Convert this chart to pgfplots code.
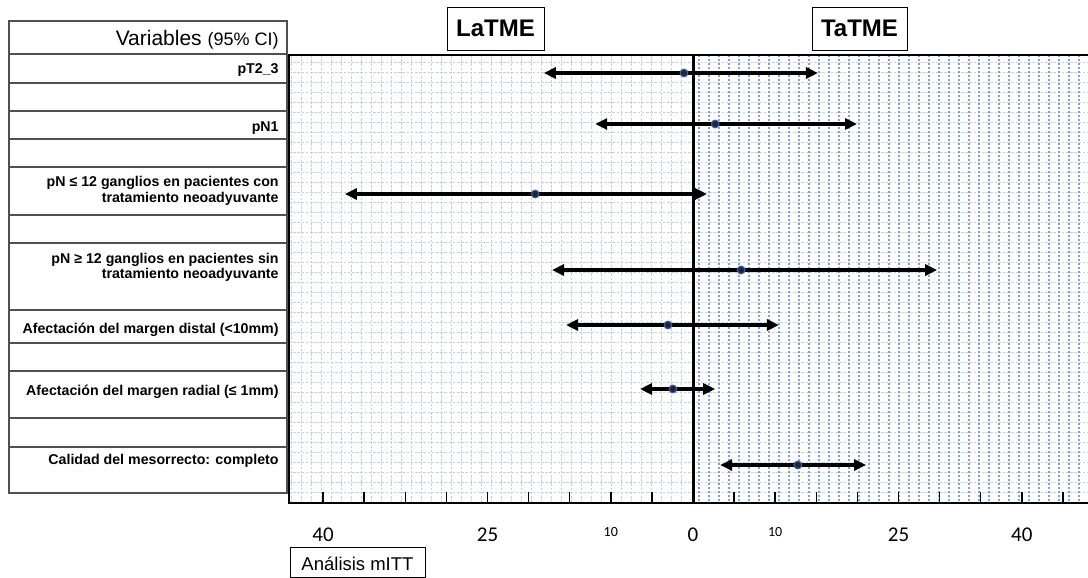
\documentclass[border=0pt]{standalone}
\usepackage{pgfplots}
\pgfplotsset{compat=1.18}
\usetikzlibrary{arrows.meta}
\usepackage{fontspec}
\setmainfont{Liberation Sans}
\newfontfamily\calibri{Carlito}
\definecolor{gridgray}{HTML}{C9D0DC}
\definecolor{gridblue}{HTML}{7FA2DC}
\definecolor{dotfill}{HTML}{1B2440}
\definecolor{dotedge}{HTML}{3A5A9A}
\definecolor{tabline}{HTML}{505050}
\newcommand\bt[1]{\mbox{\calibri\fontsize{10.5}{12}\selectfont #1}}
\newcommand\st[1]{\mbox{\calibri\fontsize{7}{8}\selectfont #1}}
\newcommand\lb{\fontsize{7.1}{8.4}\selectfont\bfseries}
\begin{document}
\begin{tikzpicture}
\begin{scope}[x=0.5pt,y=-0.5pt]
% grid
\foreach \k in {0,...,43} \draw[gridgray,line width=0.35pt,dash pattern=on 1.3pt off 0.8pt] (289,62.5+10*\k) -- (1088,62.5+10*\k);
\foreach \k in {0,...,39} \draw[gridgray,line width=0.35pt,dash pattern=on 1.3pt off 0.8pt] (291.7+10*\k,55) -- (291.7+10*\k,503);
\foreach \k in {0,...,38} \draw[gridblue,line width=0.55pt,dash pattern=on 1pt off 1pt] (699+10*\k,55) -- (699+10*\k,503);
% table
\draw[tabline,line width=0.75pt] (9,21) rectangle (287,493);
\foreach \yy in {54,83,111,139,167,215,243,310,343,371,418,447} \draw[tabline,line width=0.7pt] (9,\yy) -- (287,\yy);
\node[anchor=base east,inner sep=0pt] at (279,46) {\fontsize{10.5}{12}\selectfont Variables \fontsize{9}{11}\selectfont(95\% CI)};
\node[anchor=base east,inner sep=0pt] at (279,73) {\lb pT2\_3};
\node[anchor=base east,inner sep=0pt] at (279,131) {\lb pN1};
\node[anchor=base east,inner sep=0pt] at (279,186) {\lb pN ≤ 12 ganglios en pacientes con};
\node[anchor=base east,inner sep=0pt] at (279,202) {\lb tratamiento neoadyuvante};
\node[anchor=base east,inner sep=0pt] at (279,263) {\lb pN ≥ 12 ganglios en pacientes sin};
\node[anchor=base east,inner sep=0pt] at (279,278) {\lb tratamiento neoadyuvante};
\node[anchor=base east,inner sep=0pt] at (279,333) {\lb Afectación del margen distal (<10mm)};
\node[anchor=base east,inner sep=0pt] at (279,395) {\lb Afectación del margen radial (≤ 1mm)};
\node[anchor=base east,inner sep=0pt] at (279,464) {\lb Calidad del mesorrecto: completo};
% header boxes
\draw[black,line width=0.5pt] (447,7) rectangle (544,50);
\node[font=\bfseries\fontsize{12}{14}\selectfont,inner sep=0pt] at (495.5,28.5) {LaTME};
\draw[black,line width=0.5pt] (812,7) rectangle (907,50);
\node[font=\bfseries\fontsize{12}{14}\selectfont,inner sep=0pt] at (859.5,28.5) {TaTME};
\draw[black,line width=0.5pt] (290,547) -- (290,577.5) -- (425,577.5) -- (425,547) -- cycle;
\node[font=\fontsize{9.25}{11}\selectfont,inner sep=0pt] at (357.5,563.5) {Análisis mITT};
\end{scope}
\begin{axis}[at={(144.5pt,-251.5pt)}, anchor=south west, scale only axis,
  width=403pt, height=224pt,
  xmin=-9.830, xmax=9.781, ymin=55, ymax=503, y dir=reverse,
  ytick=\empty, xtick={-9,...,9},
  xticklabels={\bt{40},,,,\bt{25},,,\st{10},,\bt{0},,\st{10},,,\bt{25},,,\bt{40},},
  xtick pos=bottom, tick align=inside, major tick length=5.5pt,
  tick style={black,line width=0.75pt},
  axis line style={black,line width=1.1pt},
  xticklabel style={anchor=north,inner sep=0pt,yshift=-12pt},
  arr/.style={black,line width=1.7pt,{Triangle[length=6pt,width=5.5pt]}-{Triangle[length=6pt,width=5.5pt]}},
]
\draw[black,line width=1.5pt] (axis cs:-9.83,503) -- (axis cs:9.78,503);
\draw[black,line width=1.5pt] (axis cs:0,55) -- (axis cs:0,503);
\addplot[arr] coordinates {(-3.63,73) (3.04,73)};
\addplot[arr] coordinates {(-2.38,124) (3.99,124)};
\addplot[arr] coordinates {(-8.47,194) (0.34,194)};
\addplot[arr] coordinates {(-3.43,270) (5.94,270)};
\addplot[arr] coordinates {(-3.09,325) (2.09,325)};
\addplot[arr] coordinates {(-1.29,389) (0.54,389)};
\addplot[arr] coordinates {(0.66,465) (4.21,465)};
\addplot[only marks, mark=*, mark size=1.9pt, mark options={fill=dotfill, draw=dotedge, line width=0.6pt}]
  coordinates {(-0.22,73) (0.54,124) (-3.84,194) (1.17,270) (-0.61,325) (-0.49,389) (2.55,465)};
\end{axis}
\pgfresetboundingbox
\path[use as bounding box] (0pt,0pt) rectangle (544pt,-289pt);
\end{tikzpicture}
\end{document}
